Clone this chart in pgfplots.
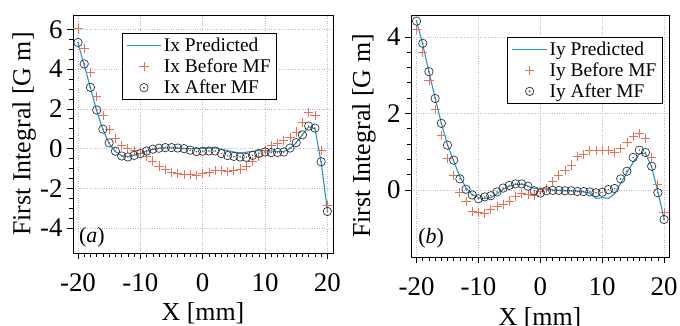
\documentclass[border=0pt]{standalone}
\usepackage{fontspec}
\setmainfont{Liberation Serif}
\usepackage{pgfplots}
\usepackage{pgfplotstable}
\pgfplotsset{compat=1.18}

\definecolor{predblue}{RGB}{35,150,210}
\definecolor{beforered}{RGB}{236,112,85}
\definecolor{gridc}{RGB}{180,185,225}

\pgfplotstableread{
x pred before after
-20 5.30 6.06 5.34
-19 4.20 5.05 4.26
-18 3.05 3.82 3.08
-17 1.90 2.63 1.94
-16 0.95 1.67 0.98
-15 0.25 0.98 0.29
-14 -0.15 0.50 -0.13
-13 -0.35 0.17 -0.37
-12 -0.40 0.00 -0.42
-11 -0.33 -0.10 -0.34
-10 -0.25 -0.22 -0.25
-9 -0.12 -0.40 -0.12
-8 -0.04 -0.62 -0.03
-7 0.01 -0.87 0.02
-6 0.04 -1.05 0.05
-5 0.04 -1.20 0.05
-4 0.03 -1.26 0.03
-3 0.01 -1.29 0.00
-2 0.00 -1.32 -0.08
-1 0.00 -1.36 -0.15
0 0.02 -1.26 -0.13
1 0.02 -1.19 -0.12
2 0.03 -1.09 -0.12
3 -0.03 -1.10 -0.25
4 -0.10 -1.17 -0.35
5 -0.17 -1.11 -0.39
6 -0.22 -1.03 -0.42
7 -0.18 -0.89 -0.44
8 -0.14 -0.65 -0.34
9 -0.10 -0.40 -0.24
10 -0.10 -0.10 -0.17
11 -0.12 0.15 -0.20
12 -0.14 0.25 -0.19
13 -0.15 0.40 -0.17
14 0.00 0.57 0.03
15 0.30 0.84 0.30
16 0.70 1.30 0.69
17 1.10 1.80 1.13
18 1.00 1.68 1.03
19 -0.70 -0.10 -0.66
20 -3.10 -2.87 -3.16
}\tabIx

\pgfplotstableread{
x pred before after
-20 4.40 4.19 4.41
-19 3.80 3.59 3.83
-18 3.08 2.87 3.09
-17 2.40 2.10 2.39
-16 1.75 1.43 1.74
-15 1.18 0.83 1.17
-14 0.75 0.37 0.78
-13 0.35 -0.06 0.29
-12 0.05 -0.30 0.02
-11 -0.12 -0.57 -0.13
-10 -0.20 -0.58 -0.23
-9 -0.22 -0.61 -0.18
-8 -0.20 -0.51 -0.15
-7 -0.10 -0.44 -0.05
-6 0.02 -0.37 0.05
-5 0.10 -0.29 0.12
-4 0.14 -0.18 0.16
-3 0.15 -0.09 0.16
-2 0.10 -0.12 0.10
-1 0.04 -0.14 -0.02
0 0.05 -0.04 -0.08
1 0.02 0.04 -0.02
2 0.00 0.22 -0.01
3 -0.01 0.39 -0.01
4 -0.02 0.51 -0.02
5 -0.02 0.65 -0.02
6 -0.03 0.87 -0.04
7 -0.05 0.92 -0.04
8 -0.08 1.04 -0.05
9 -0.22 1.03 -0.07
10 -0.20 1.03 -0.06
11 -0.22 1.03 0.01
12 -0.10 0.98 0.04
13 0.18 1.09 0.29
14 0.45 1.24 0.49
15 0.72 1.40 0.85
16 0.95 1.47 1.04
17 0.95 1.35 0.98
18 0.60 0.85 0.62
19 -0.05 0.15 -0.07
20 -0.75 -0.59 -0.77
}\tabIy

\newcommand{\tickfont}{\fontsize{27}{32}\selectfont}
\newcommand{\labfont}{\fontsize{26}{31}\selectfont}

\pgfplotsset{
  myaxis/.style={
    scale only axis,
    /pgf/number format/assume math mode=true,
    axis line style={line width=0.8pt},
    tick style={black, line width=0.6pt},
    tick align=outside,
    major tick length=6bp,
    minor tick length=4bp,
    xtick pos=bottom, ytick pos=left,
    xtick={-20,-10,...,20},
    minor x tick num=9,
    grid=major,
    grid style={dotted, gridc, line width=0.6pt},
    xticklabel style={font=\tickfont, yshift=-11bp},
    yticklabel style={font=\tickfont, xshift=-1bp},
    legend cell align=left,
    legend style={draw=black, line width=0.8pt, font=\fontsize{19.5}{22}\selectfont,
      inner xsep=4pt, inner ysep=2.5pt, row sep=2pt,
      /tikz/every even column/.append style={column sep=5pt}},
  },
  predline/.style={predblue, line width=1.1pt, no markers,
    legend image code/.code={\draw[##1] (0cm,0cm) -- (1.23cm,0cm);}},
  beforemk/.style={only marks, mark=+, mark size=4.6bp,
    mark options={beforered, line width=0.8pt},
    legend image code/.code={\draw[##1,mark repeat=2,mark phase=2] plot coordinates {(0cm,0cm) (0.615cm,0cm) (1.23cm,0cm)};}},
  aftermk/.style={only marks, mark=o, mark size=4.2bp,
    mark options={draw=black!80, fill=white, line width=0.7pt},
    legend image code/.code={\draw[##1,mark repeat=2,mark phase=2] plot coordinates {(0cm,0cm) (0.615cm,0cm) (1.23cm,0cm)}; \fill[black!60] (0.615cm,0cm) circle (0.6pt);}},
  dotmk/.style={only marks, mark=*, mark size=0.6pt, mark options={black!60, draw=none}, forget plot},
}

\begin{document}
\begin{tikzpicture}
\path[use as bounding box] (0,0) rectangle (680bp,326bp);

\begin{axis}[myaxis,
  at={(73bp,73bp)}, anchor=south west,
  width=260bp, height=238bp,
  xmin=-20.8, xmax=20.9, ymin=-5.25, ymax=6.72,
  ytick={-4,-2,...,6}, minor y tick num=3,
  xlabel={X [mm]}, ylabel={First Integral [G m]},
  every axis x label/.style={at={(axis description cs:0.5,-0.282)}, anchor=base, font=\labfont},
  every axis y label/.style={at={(axis description cs:-0.188,0.5)}, rotate=90, anchor=center, font=\labfont},
  legend style={at={(0.187,0.924)}, anchor=north west},
]
\addplot[predline] table[x=x,y=pred]{\tabIx};
\addlegendentry{Ix Predicted}
\addplot[beforemk] table[x=x,y=before]{\tabIx};
\addlegendentry{Ix Before MF}
\addplot[aftermk] table[x=x,y=after]{\tabIx};
\addlegendentry{Ix After MF}
\addplot[dotmk] table[x=x,y=after]{\tabIx};
\node[font=\fontsize{22}{26}\selectfont, anchor=center] at (axis description cs:0.073,0.067) {(\textit{a})};
\end{axis}

\begin{axis}[myaxis,
  at={(411bp,69bp)}, anchor=south west,
  width=258bp, height=242bp,
  xmin=-20.9, xmax=20.8, ymin=-1.75, ymax=4.57,
  ytick={0,2,4}, minor y tick num=4,
  xlabel={X [mm]}, ylabel={First Integral [G m]},
  every axis x label/.style={at={(axis description cs:0.5,-0.285)}, anchor=base, font=\labfont},
  every axis y label/.style={at={(axis description cs:-0.182,0.5)}, rotate=90, anchor=center, font=\labfont},
  legend style={at={(0.976,0.91)}, anchor=north east},
]
\addplot[predline] table[x=x,y=pred]{\tabIy};
\addlegendentry{Iy Predicted}
\addplot[beforemk] table[x=x,y=before]{\tabIy};
\addlegendentry{Iy Before MF}
\addplot[aftermk] table[x=x,y=after]{\tabIy};
\addlegendentry{Iy After MF}
\addplot[dotmk] table[x=x,y=after]{\tabIy};
\node[font=\fontsize{22}{26}\selectfont, anchor=center] at (axis description cs:0.078,0.076) {(\textit{b})};
\end{axis}
\end{tikzpicture}
\end{document}
